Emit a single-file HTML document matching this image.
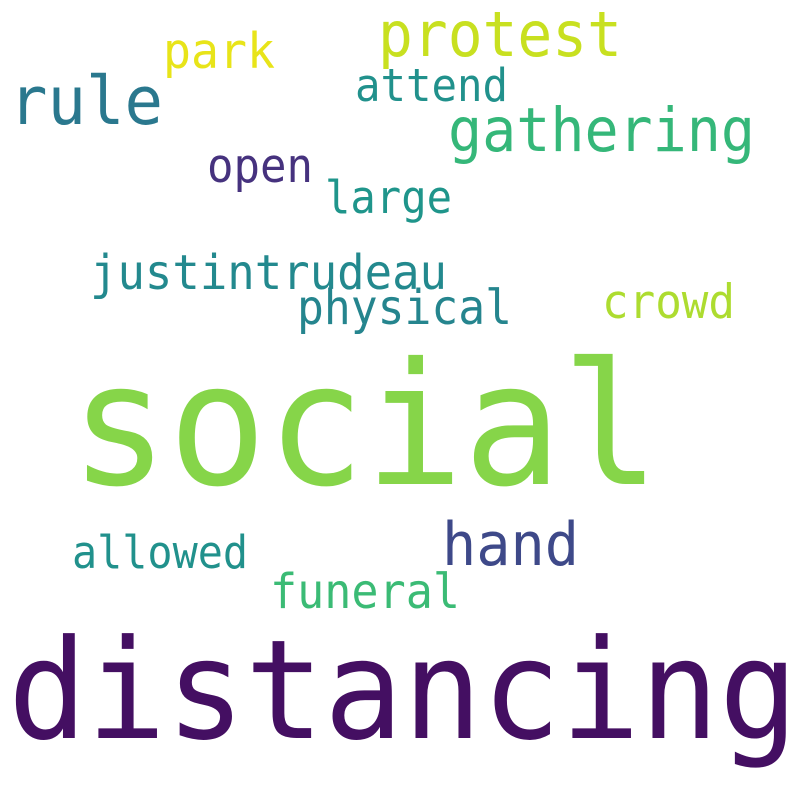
<!DOCTYPE html>
<html><head><meta charset="utf-8"><style>
html,body{margin:0;padding:0;background:#fff;}
svg{display:block;}
text{font-family:"DejaVu Sans Mono","Liberation Mono",monospace;}
</style></head><body>
<svg width="800" height="800" viewBox="0 0 800 800">
<rect width="800" height="800" fill="#fff"/>
<text x="378" y="56" font-size="62" fill="#c8e020" textLength="244" lengthAdjust="spacingAndGlyphs">protest</text>
<text x="163" y="68" font-size="49" fill="#e8e419" textLength="112" lengthAdjust="spacingAndGlyphs">park</text>
<text x="9" y="124" font-size="67" fill="#2a788e" textLength="154" lengthAdjust="spacingAndGlyphs">rule</text>
<text x="355" y="101" font-size="45" fill="#21918c" textLength="153" lengthAdjust="spacingAndGlyphs">attend</text>
<text x="448" y="151" font-size="61" fill="#35b779" textLength="307" lengthAdjust="spacingAndGlyphs">gathering</text>
<text x="207" y="182" font-size="47" fill="#46327e" textLength="106" lengthAdjust="spacingAndGlyphs">open</text>
<text x="325" y="213" font-size="45" fill="#1f958b" textLength="127" lengthAdjust="spacingAndGlyphs">large</text>
<text x="90" y="289" font-size="48" fill="#23898e" textLength="357" lengthAdjust="spacingAndGlyphs">justintrudeau</text>
<text x="297" y="324" font-size="48" fill="#25858e" textLength="215" lengthAdjust="spacingAndGlyphs">physical</text>
<text x="602" y="318" font-size="47" fill="#addc30" textLength="133" lengthAdjust="spacingAndGlyphs">crowd</text>
<text x="70" y="484" font-size="170" fill="#86d549" textLength="590" lengthAdjust="spacingAndGlyphs">social</text>
<text x="442" y="565" font-size="60" fill="#3e4989" textLength="137" lengthAdjust="spacingAndGlyphs">hand</text>
<text x="72" y="568" font-size="45" fill="#21918c" textLength="176" lengthAdjust="spacingAndGlyphs">allowed</text>
<text x="270" y="608" font-size="48" fill="#3bbb75" textLength="190" lengthAdjust="spacingAndGlyphs">funeral</text>
<text x="8" y="738" font-size="138" fill="#440f62" textLength="790" lengthAdjust="spacingAndGlyphs">distancing</text>
</svg>
</body></html>
